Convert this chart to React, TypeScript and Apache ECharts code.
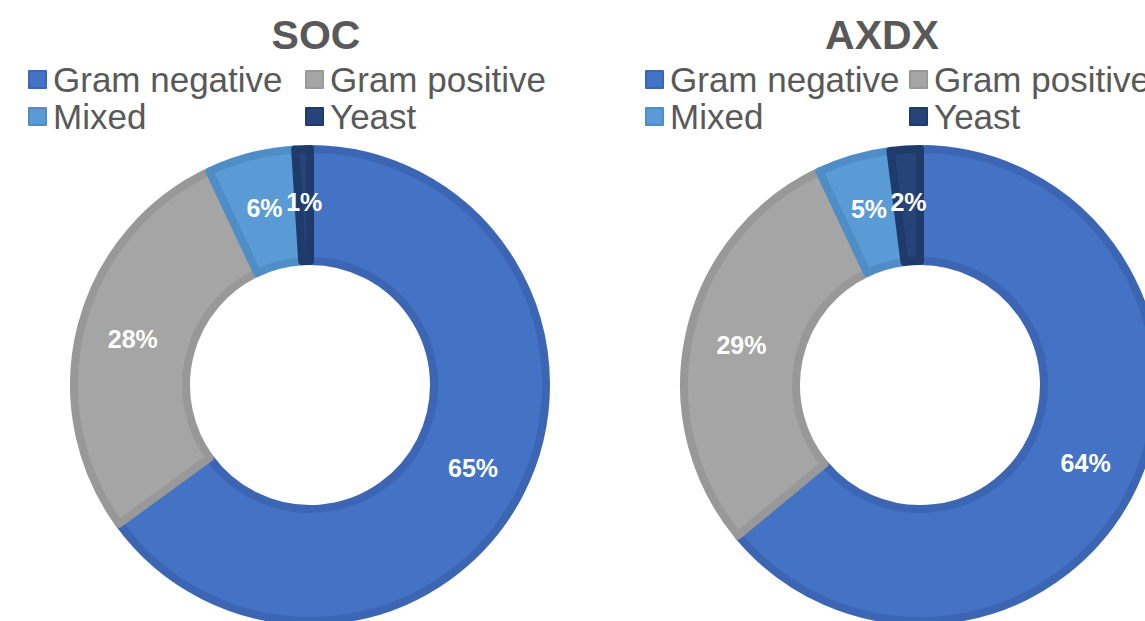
import React, { useEffect, useRef } from "react";
import * as echarts from "echarts";

const categories = ["Gram negative", "Gram positive", "Mixed", "Yeast"];
const socValues = [65, 28, 6, 1];
const axdxValues = [64, 29, 5, 2];
const chartTitles = ["SOC", "AXDX"];

const fills = ["#4472C4", "#A5A5A5", "#5B9BD5", "#264478"];
const borders = ["#3c66b4", "#989898", "#4f8dc6", "#1f3b6b"];

const FONT = "'Liberation Sans', Arial, Helvetica, sans-serif";

function buildData(values: number[]) {
  return categories.map((name, i) => ({
    name,
    value: values[i],
    itemStyle: { color: fills[i], borderColor: borders[i], borderWidth: 8 },
  }));
}

function pieSeries(values: number[], cx: number) {
  return {
    type: "pie",
    center: [cx, 385],
    radius: [124, 236],
    startAngle: 90,
    clockwise: true,
    avoidLabelOverlap: false,
    silent: true,
    label: {
      show: true,
      position: "inside",
      formatter: "{c}%",
      color: "#ffffff",
      fontSize: 25,
      fontWeight: "bold",
      fontFamily: FONT,
    },
    labelLine: { show: false },
    emphasis: { disabled: true },
    data: buildData(values),
  };
}

// legend item positions [left, top] for each chart
const legendPos = [
  [[28, 62], [305, 62], [28, 99], [305, 99]],
  [[645, 62], [909, 62], [645, 99], [909, 99]],
];

export default function App() {
  const ref = useRef<HTMLDivElement>(null);
  useEffect(() => {
    document.body.style.margin = "0";
    const chart = echarts.init(ref.current!, undefined, { renderer: "svg" });
    const legends: any[] = [];
    legendPos.forEach((chartPos) => {
      chartPos.forEach((p, i) => {
        legends.push({
          data: [categories[i]],
          left: p[0],
          top: p[1],
          padding: 0,
          icon: "rect",
          itemWidth: 17,
          itemHeight: 17,
          selectedMode: false,
          textStyle: { fontSize: 35, color: "#595959", fontFamily: FONT, padding: [0, 0, 0, 2] },
        });
      });
    });
    chart.setOption({
      animation: false,
      backgroundColor: "#ffffff",
      title: [
        {
          text: chartTitles[0],
          left: 311,
          top: 9,
          textAlign: "center",
          textStyle: { fontSize: 41, fontWeight: "bold", color: "#595959", fontFamily: FONT },
        },
        {
          text: chartTitles[1],
          left: 877,
          top: 9,
          textAlign: "center",
          textStyle: { fontSize: 41, fontWeight: "bold", color: "#595959", fontFamily: FONT },
        },
      ],
      legend: legends,
      series: [pieSeries(socValues, 310), pieSeries(axdxValues, 920)],
    });
    return () => chart.dispose();
  }, []);
  return <div ref={ref} style={{ width: 1145, height: 621 }} />;
}
